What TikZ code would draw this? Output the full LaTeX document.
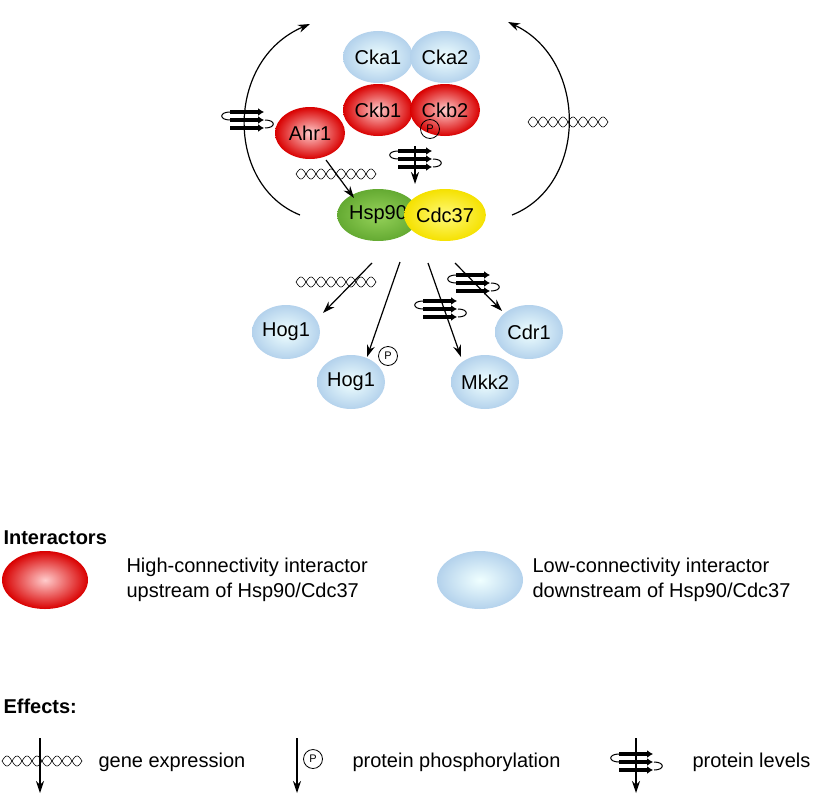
\documentclass[tikz,border=0pt]{standalone}
\usepackage{fontspec}
\setmainfont{Liberation Sans}
\usetikzlibrary{arrows.meta,shapes.geometric}
\begin{document}
\begin{tikzpicture}[x=1pt,y=-1pt,
  mol/.style={ellipse,minimum width=70pt,minimum height=52pt,inner sep=0pt,font=\fontsize{20}{22}\selectfont},
  mred/.style={mol,shading=radial,inner color=white!80!red,outer color=red!85!black},
  mblue/.style={mol,shading=radial,inner color=white!70!cyan!20,outer color={rgb,255:red,180;green,210;blue,236}},
  mgreen/.style={mol,shading=radial,inner color={rgb,255:red,150;green,210;blue,90},outer color={rgb,255:red,100;green,170;blue,50}},
  myellow/.style={mol,shading=radial,inner color={rgb,255:red,255;green,250;blue,120},outer color={rgb,255:red,245;green,225;blue,0}},
  arr/.style={-{Stealth[length=12pt,width=8pt]},line width=1.2pt},
  lbl/.style={font=\fontsize{20}{25}\selectfont,anchor=west,align=left},
  pc/.style={circle,draw,line width=0.8pt,minimum size=19pt,inner sep=0pt,font=\fontsize{11}{11}\selectfont},
  dna/.pic={\draw[line width=0.6pt] plot[domain=-40:40,samples=100] (\x,{5*sin(\x*18)});
            \draw[line width=0.6pt] plot[domain=-40:40,samples=100] (\x,{-5*sin(\x*18)});},
  prot/.pic={\foreach \yy in {-8,0,8}{\draw[line width=4pt,-{Latex[length=6pt,width=8pt]}] (-17,\yy)--(17,\yy);}
     \draw[line width=1pt] (-17,-8) .. controls (-28,-8) and (-28,0) .. (-17,0);
     \draw[line width=1pt] (18,0) .. controls (29,0) and (29,8) .. (18,8);}
]
\useasboundingbox (0,0) rectangle (834,800);
\node[mblue] (cka1) at (378,57) {Cka1};
\node[mblue] (cka2) at (445,57) {Cka2};
\node[mred] (ckb1) at (378,110) {Ckb1};
\node[mred] (ckb2) at (445,110) {Ckb2};
\node[mred] (ahr1) at (310,133) {Ahr1};
\node[mgreen] (hsp) at (378,215) {Hsp90};
\node[myellow] (cdc) at (445,215) {Cdc37};
\node[mblue,minimum width=68pt,minimum height=54pt] (hog1) at (286,332) {Hog1};
\node[mblue,minimum width=68pt,minimum height=54pt] (hog1p) at (351,382) {Hog1};
\node[mblue,minimum width=68pt,minimum height=54pt] (mkk2) at (485,382) {Mkk2};
\node[mblue,minimum width=68pt,minimum height=54pt] (cdr1) at (529,332) {Cdr1};
% arcs
\coordinate (la) at (300,215); \coordinate (lb) at (310,24);
\coordinate (ra) at (512,215); \coordinate (rb) at (508,22);
\draw[arr] (la) .. controls (225,185) and (225,60) .. (lb);
\draw[arr] (ra) .. controls (588,185) and (588,60) .. (rb);
\pic at (247,120) {prot};
\pic at (568,122) {dna};
% inner arrows
\coordinate (c1) at (415,146); \coordinate (c2) at (415,184);
\draw[arr] (c1) -- (c2);
\node[pc] (p1) at (430,129) {P};
\pic at (415,159) {prot};
\coordinate (a1) at (326,160); \coordinate (a2) at (354,198);
\draw[arr] (a1) -- (a2);
\pic at (336,174) {dna};
% lower arrows
\coordinate (s1) at (372,263); \coordinate (s2) at (400,262); \coordinate (s3) at (428,263); \coordinate (s4) at (455,263);
\coordinate (e1) at (323,313);
\draw[arr] (s1) -- (e1);
\pic at (336,282) {dna};
\coordinate (e2) at (367,357);
\draw[arr] (s2) -- (e2);
\node[pc] (p2) at (388,356) {P};
\coordinate (e3) at (461,357);
\draw[arr] (s3) -- (e3);
\pic at (440,309) {prot};
\coordinate (e4) at (502,311);
\draw[arr] (s4) -- (e4);
\pic at (473,283) {prot};
% legend
\node[font=\bfseries\fontsize{20}{22}\selectfont,anchor=west] (int) at (0,538) {Interactors};
\node[mred,minimum width=86pt,minimum height=58pt] (lr) at (45,580) {};
\node[lbl] (tr) at (123,580) {High-connectivity interactor\\upstream of Hsp90/Cdc37};
\node[mblue,minimum width=86pt,minimum height=58pt] (lbb) at (480,580) {};
\node[lbl] (tb) at (529,580) {Low-connectivity interactor\\downstream of Hsp90/Cdc37};
\node[font=\bfseries\fontsize{20}{22}\selectfont,anchor=west] (eff) at (0,706) {Effects:};
\coordinate (g1) at (40,738); \coordinate (g2) at (40,793);
\draw[arr] (g1) -- (g2);
\pic at (42,761) {dna};
\node[lbl] (tg) at (95,762) {gene expression};
\coordinate (h1) at (297,738); \coordinate (h2) at (297,793);
\draw[arr] (h1) -- (h2);
\node[pc] (p3) at (313,759) {P};
\node[lbl] (th) at (349,762) {protein phosphorylation};
\coordinate (k1) at (636,738); \coordinate (k2) at (636,793);
\draw[arr] (k1) -- (k2);
\pic at (636,762) {prot};
\node[lbl] (tk) at (689,762) {protein levels};
\end{tikzpicture}
\end{document}
